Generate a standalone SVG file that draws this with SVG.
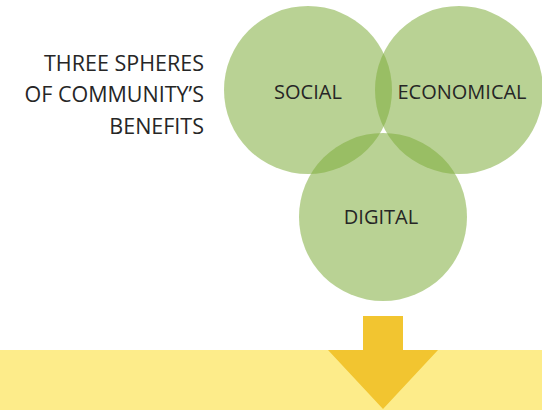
<svg xmlns="http://www.w3.org/2000/svg" width="542" height="410" viewBox="0 0 542 410">
  <style>
    .sphere { fill: #7FAD3C; fill-opacity: 0.55; }
    .label { font-family: "Open Sans", "Liberation Sans", sans-serif; font-size: 20px; fill: #262626; text-anchor: middle; }
    .title { font-family: "Open Sans", "Liberation Sans", sans-serif; font-size: 21.5px; fill: #262626; text-anchor: end; }
  </style>
  <rect width="542" height="410" fill="#ffffff"/>

  <!-- results band -->
  <rect id="band" x="0" y="350" width="542" height="60" fill="#FDEC8A"/>

  <g id="title">
    <text class="title" x="204" y="71">THREE SPHERES</text>
    <text class="title" x="204" y="102">OF COMMUNITY’S</text>
    <text class="title" x="204" y="134">BENEFITS</text>
  </g>

  <g id="social">
    <circle class="sphere" cx="308" cy="90" r="84"/>
    <text class="label" x="308" y="99">SOCIAL</text>
  </g>
  <g id="economical">
    <circle class="sphere" cx="459" cy="90" r="84"/>
    <text class="label" x="462" y="99">ECONOMICAL</text>
  </g>
  <g id="digital">
    <circle class="sphere" cx="383" cy="217" r="84"/>
    <text class="label" x="381" y="224">DIGITAL</text>
  </g>

  <g id="connectors">
    <polygon points="363,316 403,316 403,350 438,350 383,409 328,350 363,350" fill="#F2C530"/>
  </g>
</svg>
